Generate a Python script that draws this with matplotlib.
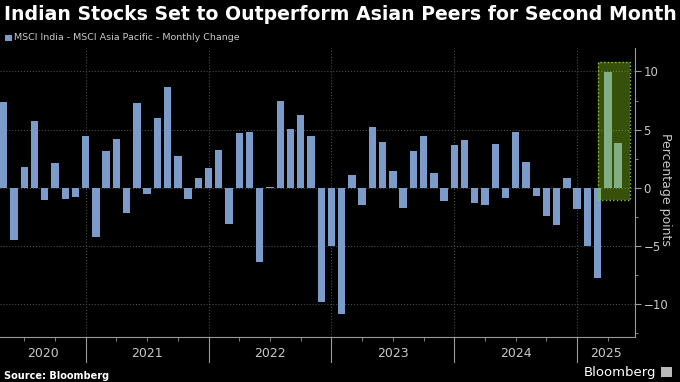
import matplotlib
matplotlib.use("Agg")
import matplotlib.pyplot as plt
import matplotlib.transforms as mtransforms
from matplotlib.patches import Rectangle
import numpy as np
import pandas as pd

# monthly change, MSCI India minus MSCI Asia Pacific (percentage points)
months = pd.period_range('2020-04', '2025-04', freq='M')
values = [7.41, -4.45, 1.81, 5.75, -1.03, 2.13, -0.98, -0.80, 4.48,
          -4.25, 3.13, 4.20, -2.16, 7.33, -0.49, 6.01, 8.62, 2.73, -0.98, 0.83, 1.72, 3.25,
          -3.10, 4.71, 4.83, -6.35, 0.05, 7.44, 5.03, 6.29, 4.48, -9.80, -4.97,
          -10.80, 1.12, -1.47, 5.26, 3.91, 1.41, -1.70, 3.13, 4.48, 1.26, -1.12,
          3.65, 4.14, -1.26, -1.44, 3.74, -0.86, 4.77, 2.18, -0.69, -2.41, -3.16, 0.89,
          -1.78, -5.0, -7.70, 9.94, 3.82]
years = [2020, 2021, 2022, 2023, 2024, 2025]
y_ticks = [-10, -5, 0, 5, 10]

title = 'Indian Stocks Set to Outperform Asian Peers for Second Month'
legend_lbl = 'MSCI India - MSCI Asia Pacific - Monthly Change'

bar_color = '#7b9bc9'
txt_color = '#c8c8c8'
axis_color = '#9a9a9a'

plt.rcParams['font.family'] = ['DejaVu Sans']

# x position = month-end, counted in months from start of 2020
x = np.array([(p.year - 2020) * 12 + p.month for p in months])

fig = plt.figure(figsize=(6.8, 3.82), dpi=100, facecolor='black')
ax = fig.add_axes([0.0, 0.118, 0.934, 0.756], facecolor='black')

ax.bar(x, values, width=0.72, color=bar_color, zorder=2)

ax.set_xlim(3.63, 65.66)
ax.set_ylim(-12.8, 12.0)

# grid
for yt in y_ticks:
    ax.axhline(yt, color='#4a4a4a', linestyle=':', linewidth=0.8, zorder=1)
for yr in years[1:]:
    ax.axvline((yr - 2020) * 12, color='#4a4a4a', linestyle=':', linewidth=0.8, zorder=1)

# highlight of the last two months
ax.add_patch(Rectangle((62.0, -1.0), 3.2, 11.8, facecolor='#8ccc1a', alpha=0.4,
                       edgecolor='none', zorder=3))
ax.add_patch(Rectangle((62.0, -1.0), 3.2, 11.8, facecolor='none', edgecolor='#86c440',
                       linestyle=':', linewidth=1.0, zorder=4))

# spines
ax.spines['left'].set_visible(False)
ax.spines['top'].set_visible(False)
ax.spines['right'].set_color(axis_color)
ax.spines['bottom'].set_color(axis_color)

# right-hand y axis
ax.yaxis.tick_right()
ax.set_yticks(y_ticks)
ax.set_yticks(np.arange(-12.5, 12.1, 2.5), minor=True)
ax.tick_params(axis='y', which='major', colors=axis_color, labelcolor=txt_color,
               labelsize=8.5, length=4, pad=2)
ax.tick_params(axis='y', which='minor', colors=axis_color, length=2)
fig.text(0.979, 0.505, 'Percentage points', color=txt_color, fontsize=9,
         rotation=270, ha='center', va='center')

# quarterly minor ticks on x, year lines drawn by hand
ax.set_xticks([])
ax.set_xticks(range(6, 66, 3), minor=True)
ax.tick_params(axis='x', which='minor', colors=axis_color, length=3)

trans = mtransforms.blended_transform_factory(ax.transData, fig.transFigure)
for yr in years[1:]:
    ax.plot([(yr - 2020) * 12] * 2, [0.118, 0.052], color=axis_color, linewidth=0.8,
            transform=trans, clip_on=False)

# year labels centred in the visible part of each year
x0, x1 = ax.get_xlim()
for yr in years:
    a = max((yr - 2020) * 12, x0)
    b = min((yr - 2020) * 12 + 12, x1)
    ax.text((a + b) / 2, 0.074, str(yr), transform=trans, ha='center', va='center',
            color=txt_color, fontsize=9)

# title, legend, source
fig.text(0.006, 0.962, title, color='white', fontsize=13.6, fontweight='bold',
         ha='left', va='center')
fig.patches.append(Rectangle((0.008, 0.893), 0.009, 0.016, facecolor=bar_color,
                             transform=fig.transFigure, figure=fig))
fig.text(0.021, 0.901, legend_lbl, color=txt_color, fontsize=6.8, ha='left', va='center')
fig.text(0.006, 0.017, 'Source: Bloomberg', color='white', fontsize=7, fontweight='bold',
         ha='left', va='center')
fig.text(0.965, 0.025, 'Bloomberg', color='white', fontsize=9.5, ha='right', va='center')
fig.patches.append(Rectangle((0.972, 0.012), 0.016, 0.028, facecolor='#bbbbbb',
                             transform=fig.transFigure, figure=fig))

fig.savefig('out.png', dpi=100, facecolor='black')
